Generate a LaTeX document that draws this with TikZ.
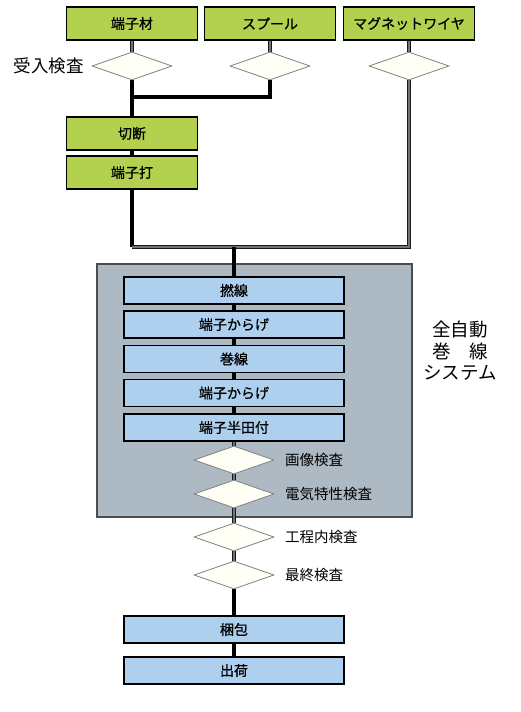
\documentclass[tikz,border=0pt]{standalone}
\usepackage{fontspec}
\setmainfont{Noto Sans CJK JP}
\newfontfamily\boxfont[FakeBold=0.8]{Noto Sans CJK JP}
\usetikzlibrary{shapes.geometric}
\pgfdeclarelayer{frame}
\pgfdeclarelayer{wires}
\pgfsetlayers{frame,wires,main}
\definecolor{leaf}{RGB}{179,208,78}
\definecolor{sky}{RGB}{174,207,238}
\definecolor{slate}{RGB}{173,185,195}
\definecolor{cream}{RGB}{255,255,246}
\begin{document}
\begin{tikzpicture} [x=1pt, y=-1pt,
    gbox/.style={draw, line width=1.6pt, fill=leaf, minimum width=131pt, minimum height=33pt, inner sep=0pt, font=\boxfont\fontsize{14}{16}\selectfont},
    bbox/.style={draw, line width=1.6pt, fill=sky, minimum width=220pt, minimum height=27pt, inner sep=0pt, font=\boxfont\fontsize{14}{16}\selectfont},
    check/.style={diamond, draw=black!50, line width=0.8pt, fill=cream, minimum width=80pt, minimum height=28pt, inner sep=0pt},
    tag/.style={anchor=west, inner sep=0pt, font=\fontsize{14.5}{16}\selectfont},
    link/.style={line width=3.6pt},
    wire/.style={draw=black!90, double=black!55, line width=1.4pt, double distance=1.6pt}]
    \useasboundingbox (0,0) rectangle (520,712);
    % green inputs
    \node[gbox] (g1) at (132, 23.5) {端子材};
    \node[gbox] (g2) at (270, 23.5) {スプール};
    \node[gbox] (g3) at (409, 23.5) {マグネットワイヤ};
    \node[check] (d1) at (132, 66) {};
    \node[check] (d2) at (270, 66) {};
    \node[check] (d3) at (409, 66) {};
    \node[anchor=east, inner sep=0pt, font=\fontsize{17.5}{19}\selectfont] (t1) at (84, 66) {受入検査};
    \node[gbox] (g4) at (132, 133.5) {切断};
    \node[gbox] (g5) at (132, 172.5) {端子打};
    \coordinate (c1) at (132, 97);
    \coordinate (c2) at (270, 97);
    \coordinate (c3) at (132, 247);
    \coordinate (c4) at (409, 247);
    \coordinate (c5) at (234, 247);
    % winding system
    \begin{pgfonlayer}{frame}
    \node[draw=black!70, line width=1.2pt, fill=slate, minimum width=315pt, minimum height=253pt] (sys) at (254.5, 390.5) {};
    \end{pgfonlayer}
    \node[bbox] (b1) at (234, 290.5) {撚線};
    \node[bbox] (b2) at (234, 324.5) {端子からげ};
    \node[bbox] (b3) at (234, 359) {巻線};
    \node[bbox] (b4) at (234, 393) {端子からげ};
    \node[bbox] (b5) at (234, 427.5) {端子半田付};
    \node[check] (d4) at (234, 460) {};
    \node[check] (d5) at (234, 494) {};
    \node[tag] (t4) at (285, 460) {画像検査};
    \node[tag] (t5) at (285, 494) {電気特性検査};
    \node[align=center, font=\fontsize{18.5}{21.5}\selectfont] (t0) at (460, 351) {全自動\\巻　線\\システム};
    % after the system
    \node[check] (d6) at (234, 537) {};
    \node[check] (d7) at (234, 575) {};
    \node[tag] (t6) at (285, 537) {工程内検査};
    \node[tag] (t7) at (285, 575) {最終検査};
    \node[bbox] (b6) at (234, 629.5) {梱包};
    \node[bbox] (b7) at (234, 670.5) {出荷};
    \begin{pgfonlayer}{wires}
    \draw[wire] (g1) -- (d1);
    \draw[wire] (g2) -- (d2);
    \draw[wire] (g3) -- (d3);
    \draw[link] (d1) -- (g4) -- (g5);
    \draw[link] (d2) -- (c2) -- (c1);
    \draw[link] (g5) -- (c3);
    \draw[wire] (d3) -- (c4) -- (c3);
    \draw[link] (c5) -- (b1) -- (b2) -- (b3) -- (b4) -- (b5);
    \draw[wire] (b5) -- (d4) -- (d5) -- (d6) -- (d7);
    \draw[link] (d7) -- (b6) -- (b7);
    \end{pgfonlayer}
\end{tikzpicture}
\end{document}
